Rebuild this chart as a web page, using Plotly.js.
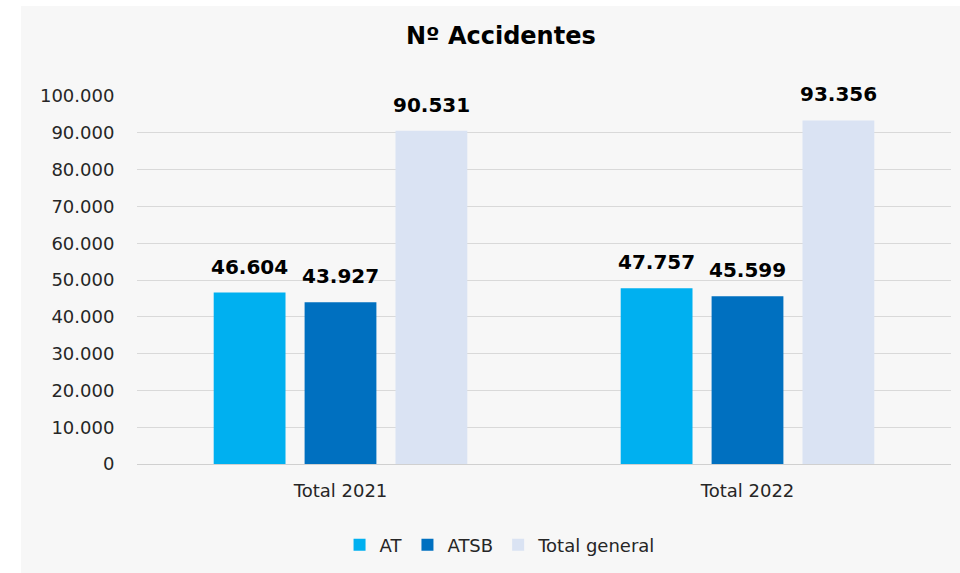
<!DOCTYPE html>
<html><head><meta charset="utf-8">
<script src="https://cdn.plot.ly/plotly-3.0.1.min.js"></script>
<style>
html,body{margin:0;padding:0;background:#fff;width:960px;height:573px;overflow:hidden;}
#chart{position:absolute;left:21px;top:6px;width:939px;height:567px;}
</style></head>
<body><div id="chart"></div>
<script>
const categories = ["Total 2021", "Total 2022"];
const seriesNames = ["AT", "ATSB", "Total general"];
const atValues = [46604, 47757];
const atsbValues = [43927, 45599];
const totalValues = [90531, 93356];
const tickValues = [0, 10000, 20000, 30000, 40000, 50000, 60000, 70000, 80000, 90000, 100000];
const colors = ["#00b0f0", "#0070c0", "#dae3f3"];
const allValues = [atValues, atsbValues, totalValues];

const font = "DejaVu Sans, sans-serif";
const bargap = 0.33;
const slot = (1 - bargap) / allValues.length;

const traces = allValues.map((vals, i) => ({
  type: "bar",
  name: seriesNames[i],
  x: categories,
  y: vals,
  marker: {color: colors[i]},
  hoverinfo: "none"
}));

const annotations = [];
allValues.forEach((vals, i) => {
  vals.forEach((v, c) => {
    annotations.push({
      xref: "x", yref: "y",
      x: c + (i - (allValues.length - 1) / 2) * slot,
      y: v,
      text: v.toLocaleString("de-DE"),
      showarrow: false,
      xanchor: "center", yanchor: "bottom",
      yshift: 12,
      font: {family: font, size: 20, color: "#000", weight: "bold"}
    });
  });
});

const layout = {
  width: 939, height: 567,
  paper_bgcolor: "#f7f7f7",
  plot_bgcolor: "#f7f7f7",
  separators: ",.",
  font: {family: font, color: "#262626"},
  title: {text: "Nº Accidentes", font: {family: font, size: 24, color: "#000", weight: "bold"}, x: 0.511, xanchor: "center", y: 0.948, yanchor: "middle"},
  margin: {l: 116, r: 9, t: 90, b: 109},
  barmode: "group",
  bargap: bargap,
  bargroupgap: 0.21,
  showlegend: true,
  legend: {orientation: "h", x: 0.446, xanchor: "center", y: -0.22, yanchor: "middle",
           font: {family: font, size: 18, color: "#262626"}, itemwidth: 30, traceorder: "normal"},
  annotations: annotations,
  xaxis: {type: "category", showgrid: false, zeroline: false,
          showline: false, tickfont: {family: font, size: 18, color: "#262626"},
          ticks: "outside", ticklen: 10, tickcolor: "rgba(0,0,0,0)"},
  yaxis: {range: [0, 100000], tickvals: tickValues, tickformat: ",d",
          showgrid: true, gridcolor: "#d9d9d9", gridwidth: 1, zeroline: true, zerolinecolor: "#d0d0d0",
          tickfont: {family: font, size: 18, color: "#262626"},
          ticks: "outside", ticklen: 18, tickcolor: "rgba(0,0,0,0)"}
};

Plotly.newPlot("chart", traces, layout, {staticPlot: true});
</script></body></html>
